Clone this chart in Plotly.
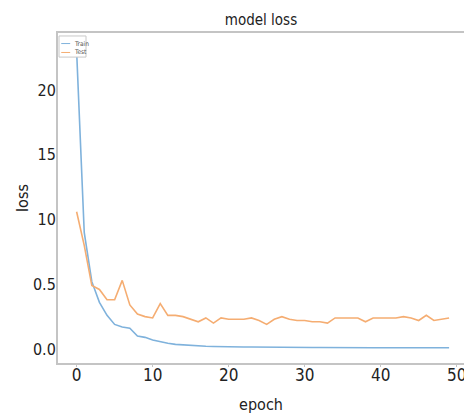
import plotly.graph_objects as go

epochs = list(range(50))
train_loss = [2.30, 0.90, 0.52, 0.36, 0.26, 0.19, 0.17, 0.16, 0.10, 0.09,
              0.07, 0.055, 0.045, 0.036, 0.031, 0.027, 0.023, 0.021, 0.019, 0.017,
              0.016, 0.016, 0.015, 0.015, 0.014, 0.014, 0.013, 0.013, 0.013, 0.012,
              0.012, 0.012, 0.012, 0.011, 0.011, 0.011, 0.011, 0.011, 0.010, 0.010,
              0.010, 0.010, 0.010, 0.010, 0.010, 0.010, 0.010, 0.010, 0.010, 0.010]
test_loss = [1.06, 0.80, 0.49, 0.46, 0.38, 0.38, 0.53, 0.34, 0.27, 0.25,
             0.24, 0.35, 0.26, 0.26, 0.25, 0.23, 0.21, 0.24, 0.20, 0.24,
             0.23, 0.23, 0.23, 0.24, 0.22, 0.19, 0.23, 0.25, 0.23, 0.22,
             0.22, 0.21, 0.21, 0.20, 0.24, 0.24, 0.24, 0.24, 0.21, 0.24,
             0.24, 0.24, 0.24, 0.25, 0.24, 0.22, 0.26, 0.22, 0.23, 0.24]

x_ticks = [0, 10, 20, 30, 40, 50]
y_tickvals = [0.0, 0.5, 1.0, 1.5, 2.0]
y_ticktext = ["0.0", "0.5", "10", "15", "20"]
series_names = ["Train", "Test"]
series_colors = ["#7fb2dc", "#f5ad72"]

FONT = "Liberation Sans Narrow, DejaVu Sans Condensed, Liberation Sans, sans-serif"
TXT = "#222222"

fig = go.Figure()
for name, vals, col in zip(series_names, [train_loss, test_loss], series_colors):
    fig.add_trace(go.Scatter(x=epochs, y=vals, mode="lines", name=name,
                             line=dict(color=col, width=1.6)))

# small legend box drawn in paper coordinates (top-left inside the axes)
fig.add_shape(type="rect", xref="paper", yref="paper", x0=0.0025, x1=0.069,
              y0=0.927, y1=0.991, line=dict(color="#c8c8c8", width=1),
              fillcolor="white", layer="above")
for i, (name, col) in enumerate(zip(series_names, series_colors)):
    yy = 0.968 - i * 0.027
    fig.add_shape(type="line", xref="paper", yref="paper", x0=0.008, x1=0.03,
                  y0=yy, y1=yy, line=dict(color=col, width=1), layer="above")
    fig.add_annotation(xref="paper", yref="paper", x=0.034, y=yy, text=name,
                       showarrow=False, xanchor="left", yanchor="middle",
                       font=dict(size=6.5, family=FONT, color="#555555"))

fig.update_layout(
    width=464, height=414,
    margin=dict(l=58, r=0, t=33, b=51),
    paper_bgcolor="white", plot_bgcolor="white",
    font=dict(family=FONT, color=TXT),
    title=dict(text="model loss", x=0.5, xref="paper", y=0.953, yanchor="middle",
               font=dict(size=15, family=FONT, color=TXT)),
    showlegend=False,
    xaxis=dict(range=[-2.45, 50.96], tickvals=x_ticks, showgrid=False, zeroline=False,
               automargin=False, ticklabeloverflow="allow", ticklabelstandoff=-6,
               showline=True, linecolor="#c4c4c4", linewidth=2, mirror=True,
               ticks="outside", ticklen=2, tickcolor="#c4c4c4",
               tickfont=dict(size=17, family=FONT, color=TXT),
               title=dict(text="epoch", font=dict(size=16, family=FONT, color=TXT),
                          standoff=14)),
    yaxis=dict(range=[-0.108, 2.44], tickvals=y_tickvals, ticktext=y_ticktext,
               showgrid=False, zeroline=False, automargin=False,
               ticklabelstandoff=-3,
               showline=True, linecolor="#c4c4c4", linewidth=2,
               ticks="", ticklen=0,
               tickfont=dict(size=16, family=FONT, color=TXT),
               title=dict(text="loss", font=dict(size=16, family=FONT, color=TXT),
                          standoff=0)),
)

fig.write_html("out.html", config={"displayModeBar": False},
               post_script="document.body.style.margin='0';document.body.style.overflow='hidden';")
